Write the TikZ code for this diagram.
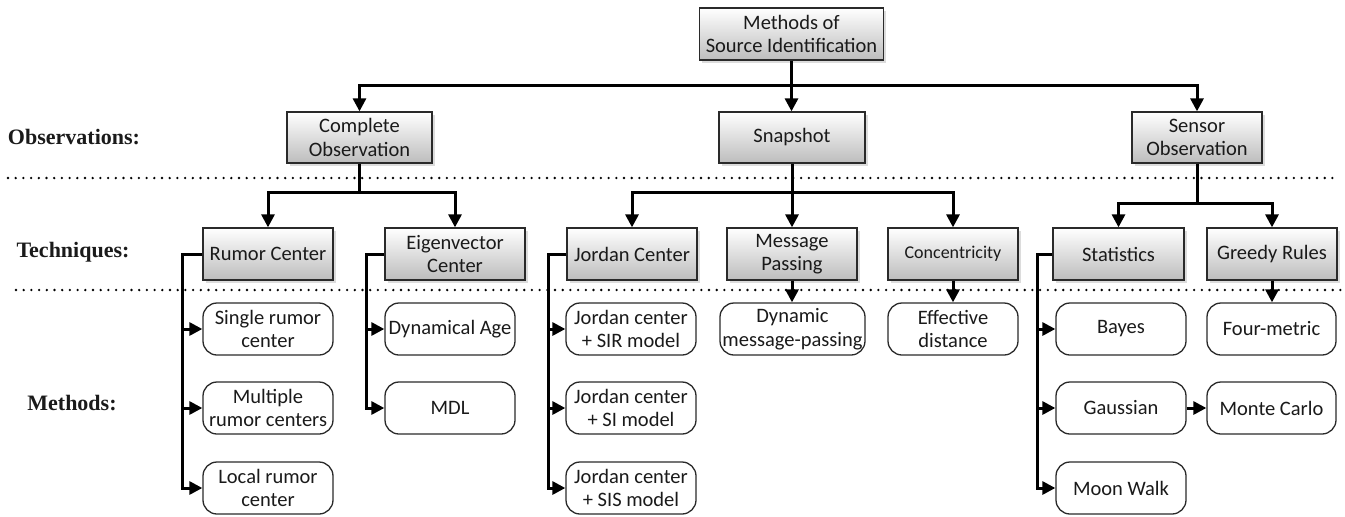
\documentclass[tikz,border=0pt]{standalone}
\usepackage{fontspec}
\setmainfont{Carlito}
\newfontfamily\labelfont{Liberation Serif}
\usetikzlibrary{arrows.meta,shadows}
\definecolor{txt}{HTML}{1A1A1A}
\definecolor{edge}{HTML}{2A2A2A}
\tikzset{
  techbox/.style={draw=edge, line width=1.3pt, top color=white, bottom color=black!26,
    drop shadow={shadow xshift=2.5pt, shadow yshift=-2.5pt, fill=black!30, opacity=0.45},
    minimum height=52pt, inner sep=0pt, align=center, text=txt,
    font=\fontsize{20.5}{23.5}\selectfont},
  methbox/.style={draw=edge, line width=1.3pt, fill=white, rounded corners=14pt,
    minimum height=52pt, inner sep=0pt, align=center, text=txt,
    font=\fontsize{20.5}{23.5}\selectfont},
  rowlabel/.style={font=\labelfont\bfseries\fontsize{22}{26}\selectfont, text=txt, inner sep=0pt},
  conn/.style={line width=3pt, black},
  arr/.style={conn, -{Triangle[length=13pt,width=13pt]}},
  dotline/.style={line width=2.6pt, line cap=round, dash pattern=on 0pt off 7.7pt, black}
}
\begin{document}
\begin{tikzpicture}[x=1pt,y=-1pt]
\useasboundingbox (0,0) rectangle (1345,517);

% dotted separators
\coordinate (d1a) at (8,178); \coordinate (d1b) at (1335,178);
\coordinate (d2a) at (16,290); \coordinate (d2b) at (1345,290);
\draw[dotline] (d1a) -- (d1b);
\draw[dotline] (d2a) -- (d2b);

% row labels
\node[rowlabel] (lobs) at (74,137) {Observations:};
\node[rowlabel] (ltech) at (73,252) {Techniques:};
\node[rowlabel] (lmeth) at (72,403) {Methods:};

% top
\node[techbox, minimum width=184pt] (top) at (791.5,34) {Methods of\\Source Identification};

% observations
\node[techbox, minimum width=145pt, minimum height=51pt] (co) at (359.5,137.5) {Complete\\Observation};
\node[techbox, minimum width=146pt, minimum height=51pt] (snap) at (792,137.5) {Snapshot};
\node[techbox, minimum width=130pt, minimum height=51pt] (so) at (1197,137.5) {Sensor\\Observation};

% techniques
\node[techbox, minimum width=130pt] (rc) at (268,254) {Rumor Center};
\node[techbox, minimum width=140pt] (ec) at (455,254) {Eigenvector\\Center};
\node[techbox, minimum width=130pt] (jc) at (632,254) {Jordan Center};
\node[techbox, minimum width=130pt] (mp) at (792,254) {Message\\Passing};
\node[techbox, minimum width=130pt, font=\fontsize{18}{21}\selectfont] (cc) at (953,254) {Concentricity};
\node[techbox, minimum width=131pt] (st) at (1118.5,254) {Statistics};
\node[techbox, minimum width=130pt] (gr) at (1272,254) {Greedy Rules};

% methods
\node[methbox, minimum width=130pt] (src) at (268,329) {Single rumor\\center};
\node[methbox, minimum width=130pt] (mrc) at (268,408) {Multiple\\rumor centers};
\node[methbox, minimum width=130pt] (lrc) at (268,488) {Local rumor\\center};
\node[methbox, minimum width=130pt] (da) at (450,329) {Dynamical Age};
\node[methbox, minimum width=130pt] (mdl) at (450,408) {MDL};
\node[methbox, minimum width=130pt] (jsir) at (631,329) {Jordan center\\+ SIR model};
\node[methbox, minimum width=130pt] (jsi) at (631,408) {Jordan center\\+ SI model};
\node[methbox, minimum width=130pt] (jsis) at (631,488) {Jordan center\\+ SIS model};
\node[methbox, minimum width=145pt] (dmp) at (792.5,329) {Dynamic\\message-passing};
\node[methbox, minimum width=130pt] (ed) at (953,329) {Effective\\distance};
\node[methbox, minimum width=130pt] (bayes) at (1121,329) {Bayes};
\node[methbox, minimum width=130pt] (gauss) at (1121,408) {Gaussian};
\node[methbox, minimum width=130pt] (moon) at (1121,488) {Moon Walk};
\node[methbox, minimum width=129pt] (four) at (1271.5,329) {Four-metric};
\node[methbox, minimum width=129pt] (monte) at (1271.5,408) {Monte Carlo};

% top-level tree
\coordinate (h1) at (791.5,85);
\draw[conn] (top.south) -- (h1);
\draw[arr] (h1) -| (co.north);
\draw[arr] (h1) -| (so.north);
\draw[arr] (h1) -- (h1 |- snap.north);

% complete observation
\coordinate (h2) at (359.5,192);
\draw[conn] (co.south) -- (h2);
\draw[arr] (h2) -| (rc.north);
\draw[arr] (h2) -| (ec.north);

% snapshot
\coordinate (h3) at (792,192);
\draw[conn] (snap.south) -- (h3);
\draw[arr] (h3) -| (jc.north);
\draw[arr] (h3) -| (cc.north);
\draw[arr] (h3) -- (mp.north);

% sensor
\coordinate (h4) at (1197,203);
\draw[conn] (so.south) -- (h4);
\draw[arr] (h4) -| (st.north);
\draw[arr] (h4) -| (gr.north);

% single drops
\draw[arr] (mp.south) -- (mp.south |- dmp.north);
\draw[arr] (cc.south) -- (cc.south |- ed.north);
\draw[arr] (gr.south) -- (gr.south |- four.north);
\draw[arr] (gauss.east) -- (monte.west);

% brackets
\coordinate (b1) at (182,254);
\draw[arr] (rc.west) -- (b1) |- (src.west);
\draw[arr] (rc.west) -- (b1) |- (mrc.west);
\draw[arr] (rc.west) -- (b1) |- (lrc.west);

\coordinate (b2) at (366,254);
\draw[arr] (ec.west) -- (b2) |- (da.west);
\draw[arr] (ec.west) -- (b2) |- (mdl.west);

\coordinate (b3) at (548,254);
\draw[arr] (jc.west) -- (b3) |- (jsir.west);
\draw[arr] (jc.west) -- (b3) |- (jsi.west);
\draw[arr] (jc.west) -- (b3) |- (jsis.west);

\coordinate (b4) at (1037,254);
\draw[arr] (st.west) -- (b4) |- (bayes.west);
\draw[arr] (st.west) -- (b4) |- (gauss.west);
\draw[arr] (st.west) -- (b4) |- (moon.west);
\end{tikzpicture}
\end{document}
